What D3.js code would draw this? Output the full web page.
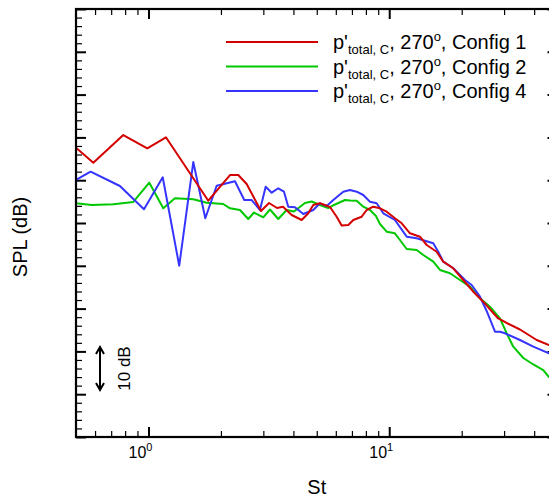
<!DOCTYPE html>
<html>
<head>
<meta charset="utf-8">
<script src="https://cdn.jsdelivr.net/npm/d3@7"></script>
<style>
  body { margin: 0; background: #fff; }
  svg { display: block; font-family: "Liberation Sans", Arial, sans-serif; }
</style>
</head>
<body>
<div id="chart"></div>
<script>
// Strouhal numbers and SPL (dB, relative)
var st1 = [0.5,0.590,0.786,0.989,1.182,1.772,2.181,2.360,2.558,2.934,3.167,3.419,3.620,3.934,4.329,4.612,4.837,5.157,5.675,6.049,6.346,6.760,7.091,7.685,8.060,8.585,9.154,9.759,10.56,11.27,12.20,13.42,14.31,15.74,16.77,18.45,20.30,22.34,24.59,27.05,28.38,30.75,34.92,40.98,46.08,50];
var spl1 = [67.59,64.09,70.56,67.45,70.02,55.21,61.21,61.21,59.11,52.80,54.67,53.50,53.81,51.87,50.70,52.27,54.21,54.60,53.74,51.47,49.42,49.53,50.70,51.47,53.04,53.81,53.43,52.64,51.10,49.93,47.59,46.80,44.86,43.29,40.96,39.42,36.68,33.95,31.61,28.97,27.69,26.64,25.12,22.66,21.50,20.68];

var st2 = [0.5,0.581,0.714,0.865,1.008,1.152,1.288,1.535,1.745,2.045,2.181,2.399,2.597,2.744,2.998,3.197,3.460,3.750,4.021,4.467,4.763,5.157,5.583,5.896,6.550,6.871,7.325,7.803,8.318,8.810,9.154,9.759,10.56,11.08,11.82,13.00,13.85,15.24,16.25,17.88,19.67,21.65,23.82,26.21,28.84,30.75,32.76,36.06,39.67,43.64,46.08,50];
var spl2 = [54.60,54.21,54.37,54.91,59.42,53.43,55.77,55.54,54.74,54.44,53.43,53.04,50.93,52.45,51.33,53.15,50.93,53.04,52.69,54.67,55.02,54.21,53.50,54.21,55.37,55.26,55.21,53.81,53.04,51.64,49.77,47.97,47.59,46.03,43.93,43.69,42.52,40.96,39.02,38.25,36.68,35.12,32.41,30.44,27.73,24.23,21.10,18.46,16.94,15.65,14.02,13.32];

var st4 = [0.5,0.575,0.761,0.958,1.146,1.342,1.535,1.722,1.920,2.287,2.500,2.684,2.905,3.068,3.250,3.460,3.654,3.808,4.059,4.395,4.837,5.157,5.498,5.857,6.444,6.871,7.325,7.803,8.318,8.869,9.447,10.56,11.82,13.00,14.53,15.24,15.98,16.77,18.45,20.64,22.00,23.82,25.39,27.50,28.84,30.26,34.92,39.67,46.08,50];
var spl4 = [60.05,61.99,58.64,53.20,60.68,40.02,64.25,51.10,58.71,59.74,55.37,55.37,53.04,58.48,57.08,58.11,57.31,53.81,53.67,52.10,53.04,54.60,53.97,55.37,57.31,57.71,57.31,56.54,54.98,54.60,52.27,50.70,46.80,46.43,45.63,45.26,43.29,40.96,39.42,36.68,35.51,32.78,29.44,24.60,24.60,24.23,22.66,21.10,19.56,18.69];

var configs = ["Config 1", "Config 2", "Config 4"];
var colors = ["#d40000", "#00c800", "#3535ff"];

var xMajor = [1, 10];
var xMinor = [0.6,0.7,0.8,0.9,2,3,4,5,6,7,8,9,20,30,40];
var yMajor = d3.range(0, 101, 10);
var yMinor = d3.range(0, 101, 2).filter(function(v){ return v % 10 !== 0; });
var xLabels = [{v: 1, e: "0"}, {v: 10, e: "1"}];

var margin = { top: 9, left: 76 };
var width = 481.5, height = 428;

var svg = d3.select("#chart").append("svg")
    .attr("width", 549)
    .attr("height", 499);

var g = svg.append("g")
    .attr("transform", "translate(" + margin.left + "," + margin.top + ")");

var x = d3.scaleLog().domain([0.5, 50]).range([0, width]);
var y = d3.scaleLinear().domain([0, 100]).range([height, 0]);

g.append("clipPath").attr("id", "clip")
  .append("rect").attr("width", width).attr("height", height);

// ticks on all four sides, pointing inward
function ticks(axis, vals, size, sw, tr){
    var a = g.append("g")
        .attr("transform", tr)
        .call(axis.tickValues(vals).tickSize(size).tickFormat(""));
    a.select(".domain").remove();
    a.selectAll("line").attr("stroke", "#000").attr("stroke-width", sw);
}
ticks(d3.axisBottom(x), xMajor, -10, 2, "translate(0," + height + ")");
ticks(d3.axisBottom(x), xMinor, -6, 1.2, "translate(0," + height + ")");
ticks(d3.axisTop(x), xMajor, -10, 2, null);
ticks(d3.axisTop(x), xMinor, -6, 1.2, null);
ticks(d3.axisLeft(y), yMajor, -10, 2, null);
ticks(d3.axisLeft(y), yMinor, -6, 1.2, null);
ticks(d3.axisRight(y), yMajor, -10, 2, "translate(" + width + ",0)");
ticks(d3.axisRight(y), yMinor, -6, 1.2, "translate(" + width + ",0)");

// data lines
var line = d3.line()
    .x(function(d){ return x(d[0]); })
    .y(function(d){ return y(d[1]); });

var series = [d3.zip(st1, spl1), d3.zip(st2, spl2), d3.zip(st4, spl4)];
var lines = g.append("g").attr("clip-path", "url(#clip)");
// draw Config 1 last so it sits on top like the reference
[1, 2, 0].forEach(function(i){
    lines.append("path")
        .datum(series[i])
        .attr("fill", "none")
        .attr("stroke", colors[i])
        .attr("stroke-width", 2)
        .attr("stroke-linejoin", "round")
        .attr("d", line);
});

// frame
g.append("rect")
    .attr("width", width).attr("height", height)
    .attr("fill", "none").attr("stroke", "#000").attr("stroke-width", 2.2);

// x tick labels 10^n
xLabels.forEach(function(d){
    var t = g.append("text")
        .attr("x", x(d.v) + 4)
        .attr("y", height + 21)
        .attr("text-anchor", "end")
        .attr("font-size", 16)
        .text("10");
    t.append("tspan").attr("dy", -7).attr("font-size", 11).text(d.e);
});

// axis titles
svg.append("text")
    .attr("x", margin.left + width / 2)
    .attr("y", 494)
    .attr("text-anchor", "middle")
    .attr("font-size", 20)
    .text("St");

svg.append("text")
    .attr("transform", "translate(27,237) rotate(-90)")
    .attr("text-anchor", "middle")
    .attr("font-size", 20)
    .text("SPL (dB)");

// 10 dB scale bar
var ay0 = y(21), ay1 = y(11), ax = 100 - margin.left;
g.append("path")
    .attr("d", "M" + ax + "," + ay0 + "V" + ay1 +
        "M" + (ax - 4) + "," + (ay0 + 7) + "L" + ax + "," + ay0 + "L" + (ax + 4) + "," + (ay0 + 7) +
        "M" + (ax - 4) + "," + (ay1 - 7) + "L" + ax + "," + ay1 + "L" + (ax + 4) + "," + (ay1 - 7))
    .attr("fill", "none").attr("stroke", "#000").attr("stroke-width", 2);
g.append("text")
    .attr("transform", "translate(" + (130 - margin.left) + "," + ((ay0 + ay1) / 2) + ") rotate(-90)")
    .attr("text-anchor", "middle")
    .attr("font-size", 17)
    .text("10 dB");

// legend
var legend = svg.append("g");
configs.forEach(function(c, i){
    var ly = 42 + i * 24.5;
    legend.append("line")
        .attr("x1", 226).attr("x2", 318)
        .attr("y1", ly).attr("y2", ly)
        .attr("stroke", colors[i]).attr("stroke-width", 2);
    var t = legend.append("text")
        .attr("x", 333).attr("y", ly + 7)
        .attr("font-size", 20);
    t.append("tspan").text("p'");
    t.append("tspan").attr("dy", 5).attr("font-size", 13).text("total, C");
    t.append("tspan").attr("dy", -5).text(", 270");
    t.append("tspan").attr("dy", -8).attr("font-size", 13).text("o");
    t.append("tspan").attr("dy", 8).text(", " + c);
});
</script>
</body>
</html>
